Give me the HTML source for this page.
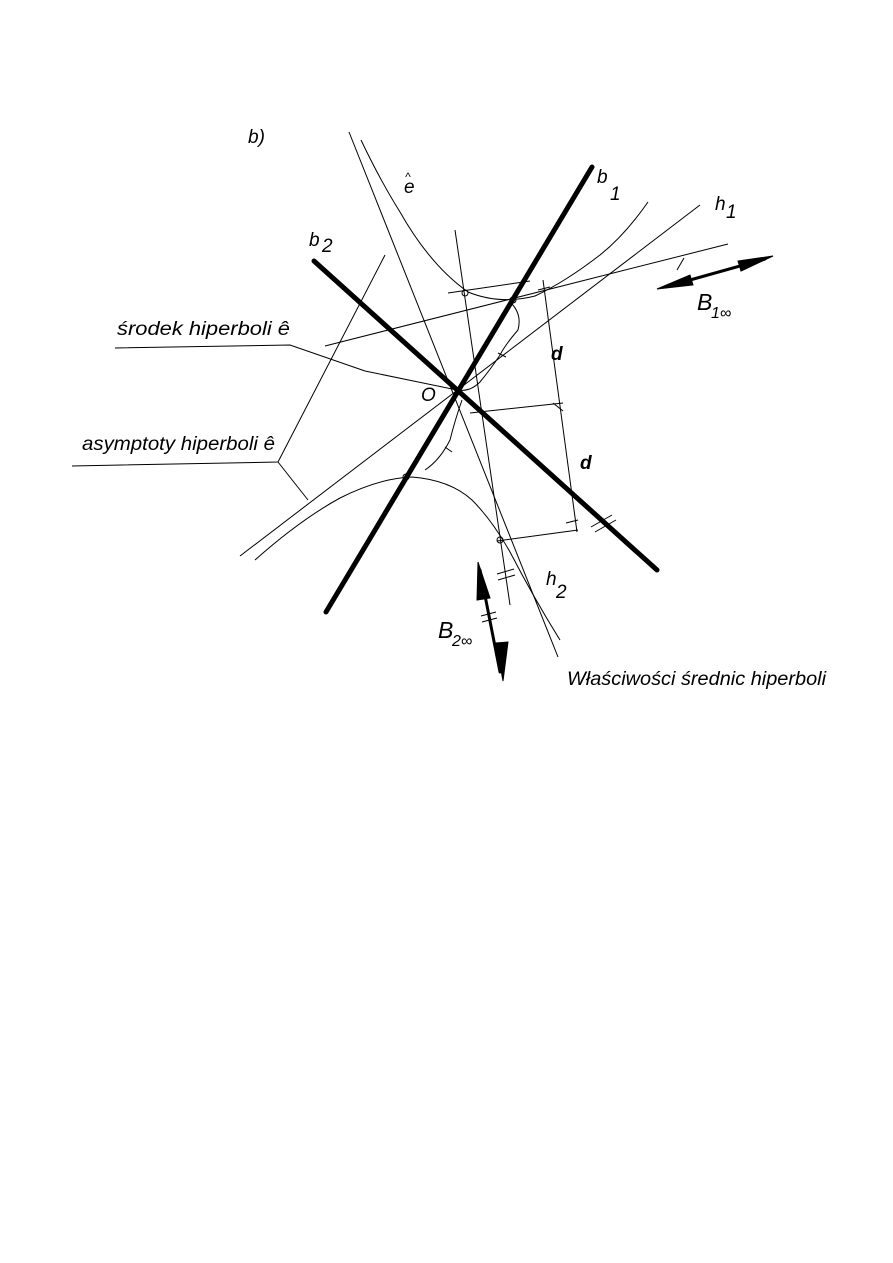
<!DOCTYPE html>
<html><head><meta charset="utf-8"><style>
html,body{margin:0;padding:0;background:#fff;}
svg{display:block}
text{font-family:"Liberation Sans",sans-serif;font-style:italic;fill:#000}
</style></head><body>
<svg width="893" height="1263" viewBox="0 0 893 1263" xmlns="http://www.w3.org/2000/svg">
<g stroke="#000" fill="none" stroke-width="1">
<line x1="349" y1="132" x2="558" y2="657"/>
<line x1="700" y1="205" x2="240" y2="556"/>
<path d="M361,140 Q380,180 400,212 Q430,265 468,292 Q500,305 535,296 Q565,282 600,255 Q625,235 648,202"/>
<path d="M255,560 Q300,520 340,498 Q380,478 412,477 Q450,480 472,500 Q492,520 510,552 Q535,600 560,640"/>
<line x1="455" y1="230" x2="510" y2="605"/>
<line x1="325" y1="346" x2="728" y2="244"/>
<line x1="448" y1="293" x2="530" y2="281"/>
<line x1="470" y1="413" x2="563" y2="403"/>
<line x1="497" y1="541" x2="578" y2="530"/>
<line x1="543" y1="280" x2="577" y2="532"/>
<line x1="538" y1="290" x2="550" y2="287"/>
<line x1="553" y1="403" x2="563" y2="411"/>
<line x1="566" y1="523" x2="578" y2="520"/>
<path d="M512,304 Q522,315 518,330 Q505,345 500,355 Q490,370 480,382 Q470,392 458,390"/>
<path d="M462,400 Q455,420 450,440 Q440,460 425,470"/>
<line x1="498" y1="353" x2="506" y2="357"/>
<line x1="445" y1="447" x2="452" y2="452"/>
<line x1="677" y1="270" x2="684" y2="258"/>
<line x1="591" y1="527" x2="612" y2="515"/>
<line x1="595" y1="532" x2="616" y2="520"/>
<line x1="497" y1="574" x2="514" y2="569"/>
<line x1="498" y1="580" x2="515" y2="575"/>
<line x1="481" y1="616" x2="496" y2="612"/>
<line x1="482" y1="622" x2="497" y2="618"/>
<circle cx="465" cy="293" r="3"/>
<circle cx="513" cy="300" r="3"/>
<circle cx="406" cy="477" r="3"/>
<circle cx="500" cy="540" r="3"/>
<polyline points="115,348 290,345 365,371 457,390"/>
<polyline points="72,466 278,462 385,255"/>
<line x1="278" y1="462" x2="308" y2="500"/>
</g>
<g stroke="#000" stroke-width="5" stroke-linecap="round" fill="none">
<line x1="592" y1="167" x2="326" y2="612"/>
<line x1="314" y1="261" x2="657" y2="570"/>
</g>
<g fill="#000" stroke="#000" stroke-width="3" stroke-linecap="round">
<line x1="665" y1="287" x2="765" y2="259"/>
<polygon points="657,289 690,275 693,285" stroke-width="1"/>
<polygon points="773,256 738,261 741,271" stroke-width="1"/>
<line x1="480" y1="570" x2="500" y2="672"/>
<polygon points="478,562 477,600 490,598" stroke-width="1"/>
<polygon points="503,681 496,643 508,642" stroke-width="1"/>
</g>
<text x="248" y="143" font-size="19">b)</text>
<text x="404" y="193" font-size="19">e</text>
<text x="405" y="181" font-size="12">^</text>
<text x="597" y="183" font-size="19">b</text>
<text x="610" y="200" font-size="19">1</text>
<text x="715" y="210" font-size="19">h</text>
<text x="726" y="218" font-size="19">1</text>
<text x="309" y="246" font-size="19">b</text>
<text x="322" y="252" font-size="19">2</text>
<text x="697" y="310" font-size="23">B</text>
<text x="711" y="318" font-size="16">1∞</text>
<text x="551" y="360" font-size="19" font-weight="bold">d</text>
<text x="580" y="469" font-size="19" font-weight="bold">d</text>
<text x="421" y="401" font-size="19">O</text>
<text x="546" y="585" font-size="19">h</text>
<text x="556" y="598" font-size="19">2</text>
<text x="438" y="638" font-size="23">B</text>
<text x="452" y="646" font-size="16">2∞</text>
<text x="567" y="685" font-size="19" textLength="259" lengthAdjust="spacingAndGlyphs">Właściwości średnic hiperboli</text>
<text x="117" y="335" font-size="19" textLength="173" lengthAdjust="spacingAndGlyphs">środek hiperboli  ê</text>
<text x="82" y="450" font-size="19" textLength="193" lengthAdjust="spacingAndGlyphs">asymptoty hiperboli ê</text>
</svg>
</body></html>
